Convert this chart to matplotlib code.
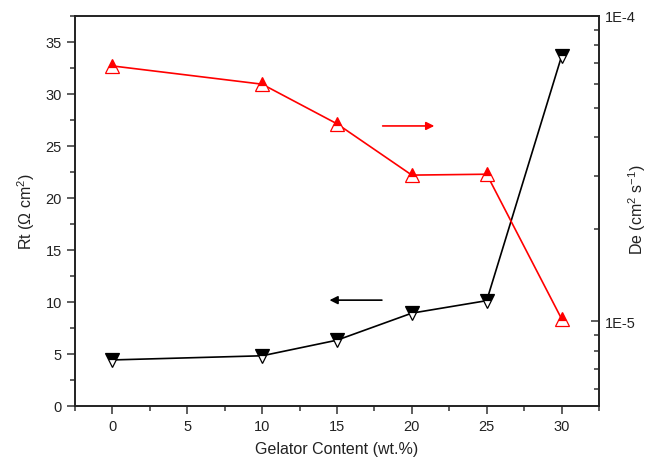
import matplotlib
matplotlib.use("Agg")
import matplotlib.pyplot as plt
from matplotlib.ticker import FixedLocator, FixedFormatter, LogLocator, NullFormatter, MultipleLocator

plt.rcParams['font.family'] = ['Liberation Sans', 'DejaVu Sans']
plt.rcParams['mathtext.fontset'] = 'custom'
plt.rcParams['mathtext.rm'] = 'Liberation Sans'
plt.rcParams['mathtext.it'] = 'Liberation Sans'
plt.rcParams['mathtext.default'] = 'regular'

# Data
gelator = [0, 10, 15, 20, 25, 30]
rt_values = [4.4, 4.8, 6.3, 8.9, 10.1, 33.6]
de_values = [6.85e-5, 5.97e-5, 4.43e-5, 3.01e-5, 3.03e-5, 1.02e-5]
x_ticks = [0, 5, 10, 15, 20, 25, 30]
rt_ticks = [0, 5, 10, 15, 20, 25, 30, 35]
de_ticks = [1e-5, 1e-4]
de_tick_labels = ['1E-5', '1E-4']

fig = plt.figure(figsize=(6.51, 4.64), dpi=100)
ax = fig.add_axes([0.1152, 0.1235, 0.9201 - 0.1152, 0.964 - 0.1235])
ax2 = ax.twinx()

ax.plot(gelator, rt_values, color='black', lw=1.2, marker='v', ms=10,
        fillstyle='top', markerfacecolor='black', markerfacecoloralt='white',
        markeredgecolor='black', markeredgewidth=0.9, zorder=3)
ax2.plot(gelator, de_values, color='red', lw=1.2, marker='^', ms=10,
         fillstyle='top', markerfacecolor='red', markerfacecoloralt='white',
         markeredgecolor='red', markeredgewidth=0.9, zorder=3)

ax.set_xlim(-2.5, 32.5)
ax.set_ylim(0, 37.5)
ax2.set_yscale('log')
ax2.set_ylim(5.3e-6, 1e-4)

ax.xaxis.set_major_locator(FixedLocator(x_ticks))
ax.xaxis.set_minor_locator(MultipleLocator(2.5))
ax.yaxis.set_major_locator(FixedLocator(rt_ticks))
ax.yaxis.set_minor_locator(MultipleLocator(2.5))

ax2.yaxis.set_major_locator(FixedLocator(de_ticks))
ax2.yaxis.set_major_formatter(FixedFormatter(de_tick_labels))
ax2.yaxis.set_minor_locator(LogLocator(base=10, subs=[2, 3, 4, 5, 6, 7, 8, 9], numticks=20))
ax2.yaxis.set_minor_formatter(NullFormatter())

ax.tick_params(axis='x', which='both', direction='out', top=False, labelsize=10.5, colors='#333333', labelcolor='#222222', width=1.1)
ax.tick_params(axis='x', which='major', length=6)
ax.tick_params(axis='x', which='minor', length=3.5)
ax.tick_params(axis='y', which='both', direction='out', right=False, labelsize=10.5, colors='#333333', labelcolor='#222222', width=1.1)
ax.tick_params(axis='y', which='major', length=6)
ax.tick_params(axis='y', which='minor', length=3.5)
ax2.tick_params(axis='y', which='both', direction='in', labelsize=10.5, colors='#333333', labelcolor='#222222', width=1.1, pad=4)
ax2.tick_params(axis='y', which='major', length=6)
ax2.tick_params(axis='y', which='minor', length=3.5)

for a in (ax, ax2):
    for s in a.spines.values():
        s.set_linewidth(1.2)
        s.set_color('#222222')

ax.set_xlabel('Gelator Content (wt.%)', fontsize=11.5, color='#222222', labelpad=6)
ax.set_ylabel(r'Rt ($\Omega$ cm$^2$)', fontsize=11.5, color='#222222', labelpad=6)
fig.text(637 / 651, 1 - 210 / 464, r'De (cm$^2$ s$^{-1}$)', fontsize=11.5, color='#222222',
         rotation=90, ha='center', va='center')

# Arrow annotations (direction indicators)
ax.annotate('', xy=(21.5, 26.9), xytext=(18.05, 26.9),
            arrowprops=dict(arrowstyle='-|>', color='red', lw=1.2, mutation_scale=12,
                            shrinkA=0, shrinkB=0))
ax.annotate('', xy=(14.5, 10.15), xytext=(18.0, 10.15),
            arrowprops=dict(arrowstyle='-|>', color='black', lw=1.2, mutation_scale=12,
                            shrinkA=0, shrinkB=0))

fig.savefig('out.png', dpi=100)
